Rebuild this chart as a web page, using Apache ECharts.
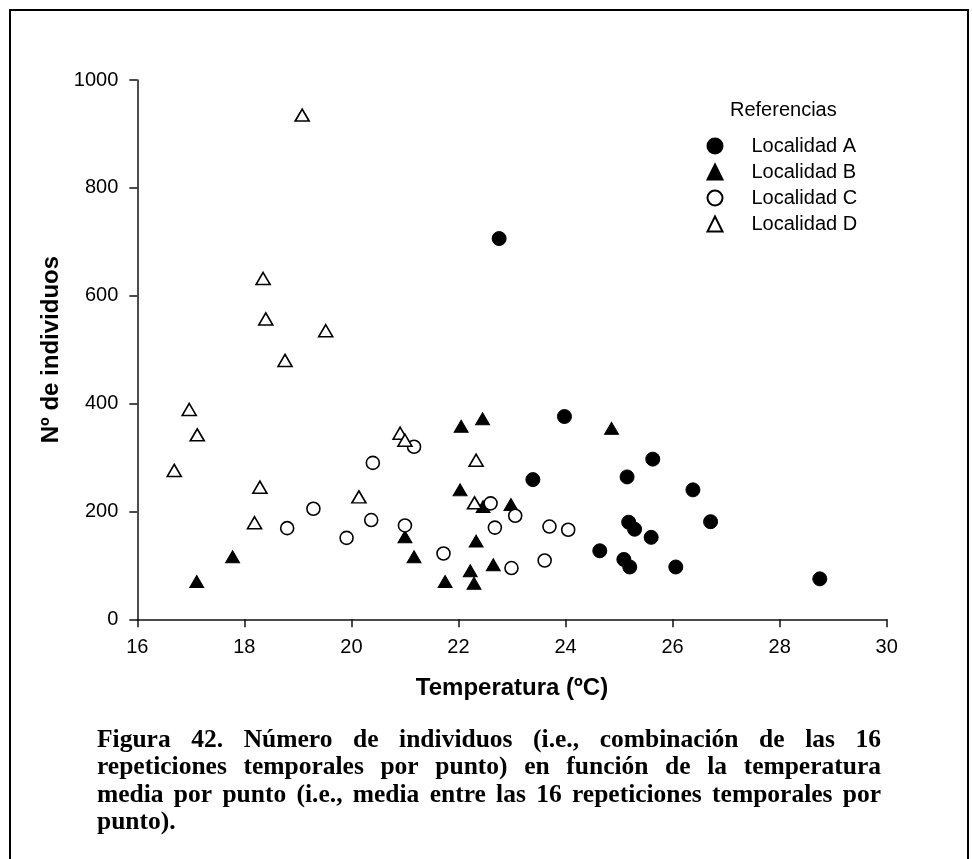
<!DOCTYPE html>
<html>
<head>
<meta charset="utf-8">
<title>Número de individuos vs temperatura</title>
<script src="https://cdn.jsdelivr.net/npm/echarts@6/dist/echarts.min.js"></script>
<style>
  html, body { margin: 0; padding: 0; background: #ffffff; }
  #chart { width: 972px; height: 859px; }
</style>
</head>
<body>
<div id="chart"></div>
<script>
// Temperature (ºC) and number of individuals per sampling point, by locality
const locA_temp = [22.76, 23.98, 25.63, 25.15, 23.39, 26.38, 26.71, 25.18, 25.29, 25.60, 24.64, 25.09, 25.20, 26.06, 28.75];
const locA_count = [706, 376, 297, 264, 259, 240, 181, 180, 167, 152, 127, 111, 97, 97, 75];

const locB_temp = [22.05, 22.45, 24.86, 22.03, 22.46, 22.98, 21.00, 21.17, 17.78, 17.11, 22.33, 21.75, 22.22, 22.29, 22.65];
const locB_count = [358, 372, 354, 240, 209, 213, 153, 116, 116, 70, 145, 70, 90, 67, 101];

const locC_temp = [18.80, 19.29, 19.91, 20.40, 20.37, 21.17, 21.00, 22.60, 23.06, 22.68, 23.70, 24.05, 21.72, 22.99, 23.61];
const locC_count = [169, 205, 151, 290, 184, 320, 174, 215, 192, 170, 172, 166, 122, 95, 109];

const locD_temp = [16.97, 17.12, 16.69, 18.29, 18.19, 20.14, 20.91, 21.00, 19.08, 18.35, 18.40, 19.52, 18.76, 22.33, 22.30];
const locD_count = [389, 342, 276, 245, 179, 227, 345, 332, 935, 632, 557, 535, 480, 295, 216];

const seriesNames = ['Localidad A', 'Localidad B', 'Localidad C', 'Localidad D'];
const legendTitle = 'Referencias';
const xAxisTitle = 'Temperatura (ºC)';
const yAxisTitle = 'Nº de individuos';
const xTicks = { min: 16, max: 30, interval: 2 };
const yTicks = { min: 0, max: 1000, interval: 200 };

const captionLines = [
  'Figura 42. Número de individuos (i.e., combinación de las 16',
  'repeticiones temporales por punto) en función de la temperatura',
  'media por punto (i.e., media entre las 16 repeticiones temporales por',
  'punto).'
];

const SANS = '"Liberation Sans", Arial, sans-serif';
const SERIF = '"Liberation Serif", "Times New Roman", serif';

function pairs(xs, ys) { return xs.map((x, i) => [x, ys[i]]); }

// Justified caption: every word is its own text element, spread across the line width
function buildCaption() {
  const fontSize = 25.5;
  const font = 'bold ' + fontSize + 'px ' + SERIF;
  const ctx = document.createElement('canvas').getContext('2d');
  ctx.font = font;
  const left = 97, right = 881;
  const firstY = 740, lineStep = 27.5;
  const els = [];
  captionLines.forEach((line, li) => {
    const words = line.split(' ');
    const y = firstY + li * lineStep;
    const widths = words.map(w => ctx.measureText(w).width);
    const total = widths.reduce((a, b) => a + b, 0);
    const last = li === captionLines.length - 1;
    const space = ctx.measureText(' ').width;
    let gap = (last || words.length < 2) ? space : (right - left - total) / (words.length - 1);
    if (gap < 2) gap = 2;
    let x = left;
    words.forEach((w, wi) => {
      els.push({
        type: 'text',
        x: x, y: y,
        style: { text: w, font: font, fill: '#000', textVerticalAlign: 'middle', textAlign: 'left' },
        silent: true
      });
      x += widths[wi] + gap;
    });
  });
  return els;
}

const chart = echarts.init(document.getElementById('chart'), null, { renderer: 'canvas' });

const axisColor = '#111';
const common = { type: 'scatter', symbolSize: 14 };

const option = {
  backgroundColor: '#ffffff',
  animation: false,
  textStyle: { fontFamily: SANS },
  title: {
    text: legendTitle,
    left: 730, top: 100, padding: 0,
    textStyle: { fontFamily: SANS, fontSize: 20, fontWeight: 'normal', color: '#000', lineHeight: 20 }
  },
  legend: {
    orient: 'vertical',
    left: 706.5, top: 136,
    itemWidth: 15, itemHeight: 15, itemGap: 6,
    padding: 0,
    textStyle: { fontFamily: SANS, fontSize: 20, color: '#000', lineHeight: 20, padding: [0, 0, 0, 24] },
    data: seriesNames
  },
  grid: { left: 137.3, right: 85.3, top: 80, bottom: 239.7, containLabel: false },
  xAxis: {
    type: 'value',
    min: xTicks.min, max: xTicks.max, interval: xTicks.interval,
    name: xAxisTitle, nameLocation: 'middle', nameGap: 57,
    nameTextStyle: { fontFamily: SANS, fontSize: 24, fontWeight: 'bold', color: '#000' },
    axisLine: { show: true, onZero: false, lineStyle: { color: axisColor, width: 1.5 } },
    axisTick: { show: true, inside: false, length: 8, lineStyle: { color: axisColor, width: 1.5 } },
    axisLabel: { margin: 18, fontSize: 20, color: '#000', fontFamily: SANS },
    splitLine: { show: false }
  },
  yAxis: {
    type: 'value',
    min: yTicks.min, max: yTicks.max, interval: yTicks.interval,
    name: yAxisTitle, nameLocation: 'middle', nameGap: 58, nameRotate: 90,
    nameTextStyle: { fontFamily: SANS, fontSize: 24, fontWeight: 'bold', color: '#000' },
    axisLine: { show: true, onZero: false, lineStyle: { color: axisColor, width: 1.5 } },
    axisTick: { show: true, inside: false, length: 8, lineStyle: { color: axisColor, width: 1.5 } },
    axisLabel: { margin: 19, fontSize: 20, color: '#000', fontFamily: SANS, formatter: v => String(v) },
    splitLine: { show: false }
  },
  series: [
    Object.assign({}, common, {
      name: seriesNames[0], symbol: 'circle',
      itemStyle: { color: '#000', borderColor: '#000', borderWidth: 1, opacity: 1 },
      data: pairs(locA_temp, locA_count)
    }),
    Object.assign({}, common, {
      name: seriesNames[1], symbol: 'triangle', symbolSize: [14, 12],
      itemStyle: { color: '#000', borderColor: '#000', borderWidth: 1, opacity: 1 },
      data: pairs(locB_temp, locB_count)
    }),
    Object.assign({}, common, {
      name: seriesNames[2], symbol: 'circle', symbolSize: 13,
      itemStyle: { color: '#fff', borderColor: '#000', borderWidth: 1.6, opacity: 1 },
      data: pairs(locC_temp, locC_count)
    }),
    Object.assign({}, common, {
      name: seriesNames[3], symbol: 'triangle', symbolSize: [14, 12],
      itemStyle: { color: '#fff', borderColor: '#000', borderWidth: 1.6, opacity: 1 },
      data: pairs(locD_temp, locD_count)
    })
  ],
  graphic: [
    {
      type: 'rect',
      shape: { x: 10, y: 10, width: 958, height: 880 },
      style: { fill: 'none', stroke: '#000', lineWidth: 2 },
      silent: true, z: -10
    }
  ].concat(buildCaption())
};

chart.setOption(option);
</script>
</body>
</html>
